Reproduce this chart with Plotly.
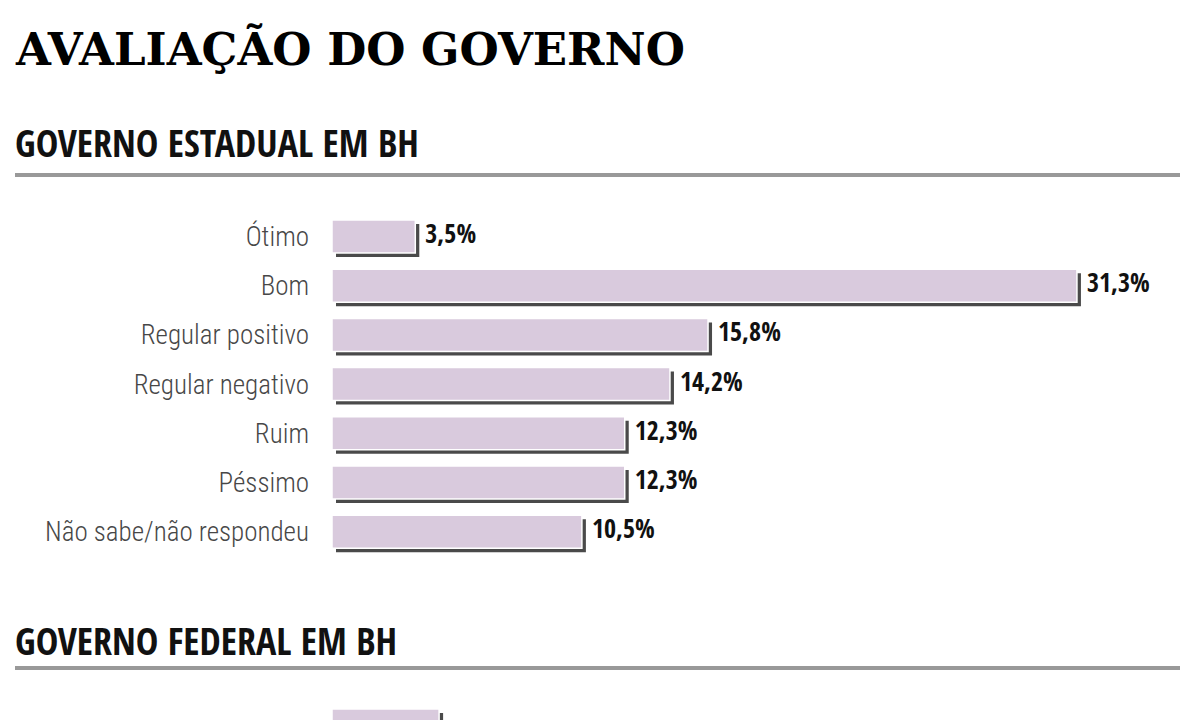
import plotly.graph_objects as go

# ---------------- data ----------------
title_text = "AVALIAÇÃO DO GOVERNO"
section_titles = ["GOVERNO ESTADUAL EM BH", "GOVERNO FEDERAL EM BH"]

categories_estadual = ["Ótimo", "Bom", "Regular positivo", "Regular negativo",
                       "Ruim", "Péssimo", "Não sabe/não respondeu"]
values_estadual = [3.5, 31.3, 15.8, 14.2, 12.3, 12.3, 10.5]

categories_federal = ["Ótimo"]
values_federal = [4.5]


def fmt(v):
    return f"{v:.1f}".replace(".", ",") + "%"


# ---------------- layout constants (pixels) ----------------
W, H = 1200, 720
X0 = 332          # pixel where 0% sits
PXPER = 23.8      # pixels per percentage point
PITCH = 49.2      # row pitch in px
BAR_PX = 33       # bar thickness in px
SH = 4            # shadow offset in px
LABEL_GAP = 6     # px between shadow end and value label
TICK_GAP = 22     # px between category label and bar start

BARW = BAR_PX / PITCH
FILL = "#d9cadd"
SHADOW = "#4a4a4a"
COND = "Open Sans Condensed"
CAT_FONT = dict(family="Roboto Condensed", size=27, color="#474747", weight=300)

sec1_center0 = 236.5      # px centre of first row, section 1
sec2_center0 = 725.5      # px centre of first row, section 2

y1_top = sec1_center0 - PITCH / 2
y1_bot = y1_top + PITCH * len(categories_estadual)
y2_top = sec2_center0 - PITCH / 2

fig = go.Figure()


def add_section(cats, vals, yref):
    # shadow
    fig.add_trace(go.Bar(
        y=cats, x=vals, orientation="h", yaxis=yref, xaxis="x",
        base=SH / PXPER, width=BARW, offset=-BARW / 2 + SH / PITCH,
        marker=dict(color=SHADOW, line=dict(width=0)),
        hoverinfo="skip", showlegend=False))
    # fill
    fig.add_trace(go.Bar(
        y=cats, x=vals, orientation="h", yaxis=yref, xaxis="x",
        base=0, width=BARW, offset=-BARW / 2,
        marker=dict(color=FILL, line=dict(color="white", width=1.5)),
        hoverinfo="skip", showlegend=False))
    # value labels
    fig.add_trace(go.Scatter(
        y=cats, x=[v + (SH + LABEL_GAP) / PXPER for v in vals],
        yaxis=yref, xaxis="x", mode="text",
        text=[fmt(v) for v in vals], textposition="middle right",
        textfont=dict(family=COND, size=26, color="#111111", weight=700),
        cliponaxis=False, hoverinfo="skip", showlegend=False))


add_section(categories_estadual, values_estadual, "y")
add_section(categories_federal, values_federal, "y2")

# category label for the (cropped) federal section
fig.add_trace(go.Scatter(
    y=categories_federal, x=[-TICK_GAP / PXPER] * len(categories_federal),
    yaxis="y2", xaxis="x", mode="text", text=categories_federal,
    textposition="middle left", textfont=CAT_FONT,
    cliponaxis=False, hoverinfo="skip", showlegend=False))

fig.update_layout(
    width=W, height=H,
    margin=dict(l=0, r=0, t=0, b=0),
    paper_bgcolor="white", plot_bgcolor="rgba(0,0,0,0)",
    barmode="overlay", showlegend=False,
    xaxis=dict(domain=[X0 / W, 1], range=[0, (W - X0) / PXPER],
               visible=False, fixedrange=True),
    yaxis=dict(domain=[1 - y1_bot / H, 1 - y1_top / H], anchor="x",
               type="category", categoryorder="array",
               categoryarray=categories_estadual,
               range=[len(categories_estadual) - 0.5, -0.5],
               showgrid=False, zeroline=False, showline=False, ticks="",
               ticklabelstandoff=TICK_GAP, automargin=False,
               tickfont=CAT_FONT),
    yaxis2=dict(domain=[0, 1 - y2_top / H], anchor="x",
                type="category", categoryorder="array",
                categoryarray=categories_federal,
                range=[-0.5 + (H - y2_top) / PITCH, -0.5],
                showgrid=False, zeroline=False, showline=False, ticks="",
                showticklabels=False, automargin=False),
)

# title and section headers
fig.add_annotation(text=title_text, xref="paper", yref="paper",
                   x=13 / W, y=1 - 50 / H, xanchor="left", yanchor="middle",
                   showarrow=False,
                   font=dict(family="DejaVu Serif", size=45,
                             color="#000000", weight=700))
for txt, yc in zip(section_titles, [142.5, 640]):
    fig.add_annotation(text=txt, xref="paper", yref="paper",
                       x=13 / W, y=1 - yc / H, xanchor="left", yanchor="middle",
                       showarrow=False,
                       font=dict(family=COND, size=38, color="#111111", weight=700))

for yl in [175, 668]:
    fig.add_shape(type="line", xref="paper", yref="paper",
                  x0=15 / W, x1=1180 / W, y0=1 - yl / H, y1=1 - yl / H,
                  line=dict(color="#999999", width=4))

fig.write_html("out.html")
